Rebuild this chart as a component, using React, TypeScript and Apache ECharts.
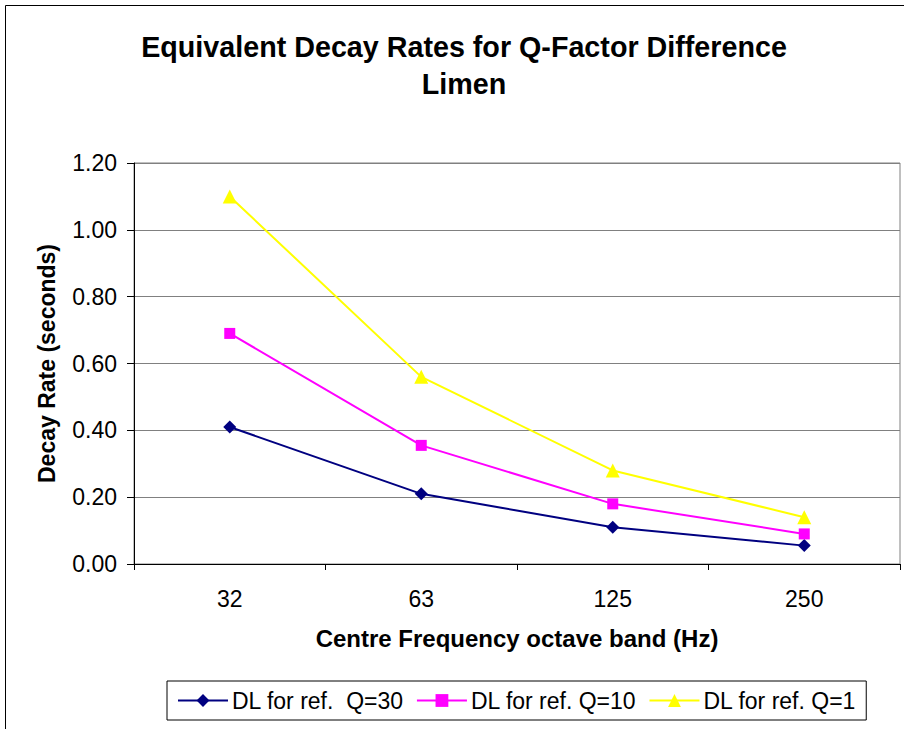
import React, { useEffect, useRef } from "react";
import * as echarts from "echarts";

const categories = ["32", "63", "125", "250"];
const seriesNames = ["DL for ref.  Q=30", "DL for ref. Q=10", "DL for ref. Q=1"];
const q30 = [0.41, 0.21, 0.11, 0.055];
const q10 = [0.69, 0.355, 0.18, 0.09];
const q1 = [1.1, 0.56, 0.28, 0.14];

const FONT = "'Liberation Sans', Arial, sans-serif";

export default function App() {
  const ref = useRef<HTMLDivElement>(null);
  useEffect(() => {
    if (!ref.current) return;
    const chart = echarts.init(ref.current, undefined, { renderer: "svg" });
    chart.setOption({
      animation: false,
      backgroundColor: "#ffffff",
      textStyle: { fontFamily: FONT },
      title: {
        text: "Equivalent Decay Rates for Q-Factor Difference\nLimen",
        left: 459,
        textAlign: "center",
        top: 23,
        textStyle: { fontFamily: FONT, fontWeight: "bold", fontSize: 28.7, lineHeight: 37, color: "#000" },
      },
      graphic: [
        {
          type: "rect",
          shape: { x: 5.5, y: 5.5, width: 904, height: 740 },
          style: { fill: "none", stroke: "#000", lineWidth: 1 },
          silent: true,
        },
      ],
      grid: {
        left: 134,
        right: 4,
        top: 163,
        bottom: 165,
        show: true,
        borderColor: "#808080",
        borderWidth: 1,
      },
      legend: {
        left: 167,
        top: 681,
        padding: [8, 10, 8, 10],
        borderColor: "#000",
        borderWidth: 1,
        itemWidth: 50,
        itemHeight: 16,
        itemGap: 12,
        textStyle: { fontFamily: FONT, fontSize: 23, color: "#000", padding: [0, 0, 0, -1] },
        data: seriesNames,
      },
      xAxis: {
        type: "category",
        data: categories,
        boundaryGap: true,
        name: "Centre Frequency octave band (Hz)",
        nameLocation: "middle",
        nameGap: 62,
        nameTextStyle: { fontFamily: FONT, fontWeight: "bold", fontSize: 24, color: "#000" },
        axisLine: { lineStyle: { color: "#000", width: 1 } },
        axisTick: { show: true, inside: false, length: 6, alignWithLabel: false, lineStyle: { color: "#000" } },
        axisLabel: { fontFamily: FONT, fontSize: 23, color: "#000", margin: 23 },
        splitLine: { show: false },
      },
      yAxis: {
        type: "value",
        min: 0,
        max: 1.2,
        interval: 0.2,
        name: "Decay Rate (seconds)",
        nameLocation: "middle",
        nameGap: 76,
        nameTextStyle: { fontFamily: FONT, fontWeight: "bold", fontSize: 23, color: "#000" },
        axisLine: { show: true, lineStyle: { color: "#000", width: 1 } },
        axisTick: { show: true, inside: false, length: 7, lineStyle: { color: "#000" } },
        axisLabel: {
          fontFamily: FONT,
          fontSize: 23,
          color: "#000",
          margin: 17,
          formatter: (v: number) => v.toFixed(2),
        },
        splitLine: { show: true, lineStyle: { color: "#808080", width: 1 } },
      },
      series: [
        {
          name: seriesNames[0],
          type: "line",
          data: q30,
          symbol: "diamond",
          symbolSize: 13,
          color: "#000080",
          lineStyle: { color: "#000080", width: 2 },
          itemStyle: { color: "#000080" },
        },
        {
          name: seriesNames[1],
          type: "line",
          data: q10,
          symbol: "rect",
          symbolSize: 11,
          color: "#FF00FF",
          lineStyle: { color: "#FF00FF", width: 2 },
          itemStyle: { color: "#FF00FF" },
        },
        {
          name: seriesNames[2],
          type: "line",
          data: q1,
          symbol: "triangle",
          symbolSize: 14,
          color: "#FFFF00",
          lineStyle: { color: "#FFFF00", width: 2 },
          itemStyle: { color: "#FFFF00" },
        },
      ],
    });
    return () => chart.dispose();
  }, []);
  return (
    <div
      ref={ref}
      style={{ position: "absolute", left: 0, top: 0, width: 904, height: 729 }}
    />
  );
}
